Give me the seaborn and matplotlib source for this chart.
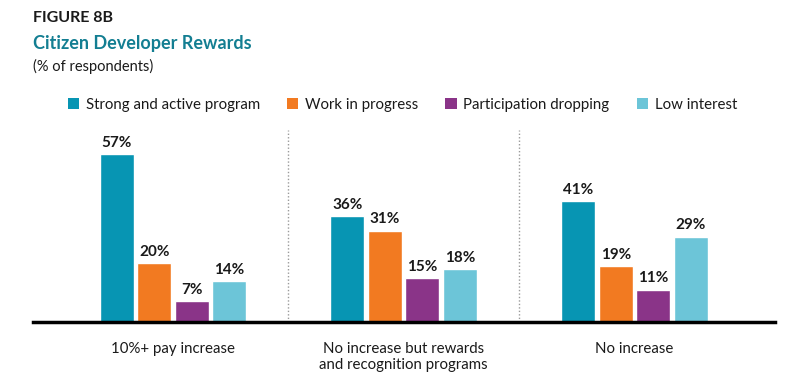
import pandas as pd
import seaborn as sns
import matplotlib.pyplot as plt
from matplotlib.patches import Patch

# -------- data --------
categories = ["10%+ pay increase",
              "No increase but rewards\nand recognition programs",
              "No increase"]
series = ["Strong and active program", "Work in progress",
          "Participation dropping", "Low interest"]
strong = [57, 36, 41]
progress = [20, 31, 19]
dropping = [7, 15, 11]
low = [14, 18, 29]
colors = ["#0795B3", "#F27A21", "#8A3488", "#6CC5D8"]

rows = []
for name, vals in zip(series, [strong, progress, dropping, low]):
    for cat, v in zip(categories, vals):
        rows.append({"category": cat, "series": name, "value": v})
df = pd.DataFrame(rows)

# -------- plot --------
sns.set_style("white")
plt.rcParams["font.family"] = ["Lato", "DejaVu Sans"]

fig = plt.figure(figsize=(8, 3.89), dpi=100)
ax = fig.add_axes([0.041, 0.172, 0.928, 0.493])

sns.barplot(data=df, x="category", y="value", hue="series", order=categories,
            hue_order=series, palette=colors, width=0.65, gap=0.09,
            saturation=1, legend=False, ax=ax)

for cont in ax.containers:
    ax.bar_label(cont, fmt="%g%%", padding=3, fontsize=11, fontweight="bold",
                 color="#1a1a1a")

ax.set_xlim(-0.607, 2.61)
ax.set_ylim(0, 65)
ax.set_yticks([])
ax.set_xlabel("")
ax.set_ylabel("")
ax.tick_params(axis="x", length=0, pad=14, labelsize=10.8, labelcolor="#1a1a1a")
for s in ["top", "right", "left"]:
    ax.spines[s].set_visible(False)
ax.spines["bottom"].set_linewidth(2.5)
ax.spines["bottom"].set_color("black")

for xd in [0.5, 1.5]:
    ax.axvline(xd, color="#9a9a9a", linestyle=(0, (1, 1.5)), linewidth=1, zorder=0)

# -------- titles --------
fig.text(0.041, 0.955, "FIGURE 8B", fontsize=11.5, fontweight="bold",
         color="#1a1a1a", va="center")
fig.text(0.041, 0.887, "Citizen Developer Rewards", fontsize=13,
         fontweight="bold", color="#137E92", va="center")
fig.text(0.041, 0.830, "(% of respondents)", fontsize=10.5, color="#1a1a1a",
         va="center")

handles = [Patch(facecolor=c, edgecolor="none") for c in colors]
fig.legend(handles, series, loc="center", bbox_to_anchor=(0.503, 0.731),
           ncol=4, frameon=False, fontsize=10.8, handlelength=0.75,
           handleheight=0.75, handletextpad=0.45, columnspacing=1.8,
           labelcolor="#1a1a1a")

fig.savefig("out.png", dpi=100)
